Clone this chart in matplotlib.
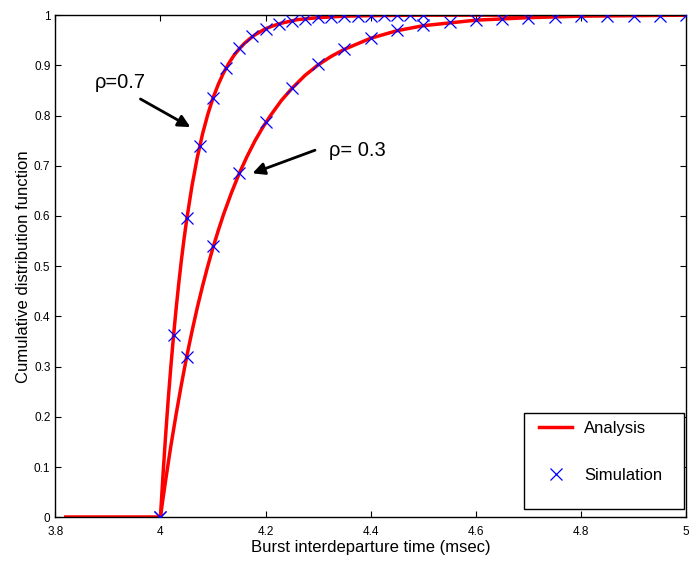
import matplotlib
matplotlib.use("Agg")
import matplotlib.pyplot as plt
from matplotlib.ticker import FormatStrFormatter
from matplotlib.patches import Rectangle

plt.rcParams['font.family'] = ['Liberation Sans', 'DejaVu Sans']

# analysis curves
ana_x_07 = [3.82, 4.0, 4.005, 4.01, 4.015, 4.02, 4.025, 4.03, 4.035, 4.04, 4.045, 4.05,
            4.06, 4.07, 4.08, 4.09, 4.10, 4.11, 4.12, 4.13, 4.14, 4.15, 4.16, 4.17, 4.18,
            4.20, 4.215, 4.23, 4.26, 4.30, 4.35, 4.40, 4.50, 5.0]
ana_y_07 = [0, 0, 0.086, 0.165, 0.237, 0.302, 0.362, 0.417, 0.467, 0.513, 0.555, 0.593,
            0.660, 0.716, 0.763, 0.802, 0.835, 0.862, 0.885, 0.904, 0.920, 0.933, 0.944, 0.953, 0.961,
            0.973, 0.979, 0.984, 0.991, 0.995, 0.998, 0.999, 1.0, 1.0]
ana_x_03 = [3.82, 4.0, 4.005, 4.01, 4.015, 4.02, 4.03, 4.04, 4.05, 4.06, 4.07, 4.08, 4.09,
            4.10, 4.11, 4.12, 4.135, 4.15, 4.165, 4.18, 4.195, 4.21, 4.23, 4.25, 4.275,
            4.30, 4.325, 4.35, 4.40, 4.45, 4.50, 4.60, 4.70, 4.80, 4.90, 5.0]
ana_y_03 = [0, 0, 0.038, 0.074, 0.109, 0.143, 0.206, 0.265, 0.320, 0.370, 0.417, 0.460, 0.500,
            0.537, 0.571, 0.603, 0.646, 0.685, 0.719, 0.750, 0.777, 0.801, 0.830, 0.854, 0.880,
            0.901, 0.918, 0.932, 0.954, 0.969, 0.979, 0.990, 0.995, 0.998, 0.999, 1.0]

# simulation points
sim_x_07 = [4.0, 4.025, 4.05, 4.075, 4.1, 4.125, 4.15, 4.175, 4.2, 4.225, 4.25,
            4.275, 4.3, 4.325, 4.35, 4.375, 4.4, 4.425, 4.45, 4.475, 4.5]
sim_y_07 = [0, 0.363, 0.595, 0.74, 0.835, 0.895, 0.935, 0.958, 0.973, 0.983, 0.989,
            0.993, 0.996, 0.997, 0.998, 0.999, 0.999, 1.0, 1.0, 1.0, 1.0]
sim_x_03 = [4.0, 4.05, 4.1, 4.15, 4.2, 4.25, 4.3, 4.35, 4.4, 4.45, 4.5,
            4.55, 4.6, 4.65, 4.7, 4.75, 4.8, 4.85, 4.9, 4.95, 5.0]
sim_y_03 = [0, 0.32, 0.54, 0.685, 0.787, 0.855, 0.902, 0.933, 0.955, 0.97, 0.98,
            0.986, 0.99, 0.993, 0.995, 0.997, 0.998, 0.999, 0.999, 0.999, 1.0]

fig = plt.figure(figsize=(6.91, 5.61), dpi=100)
ax = fig.add_axes([0.080, 0.078, 0.913, 0.895])

ax.plot(ana_x_07, ana_y_07, color='red', lw=2.5, label='Analysis', zorder=2)
ax.plot(ana_x_03, ana_y_03, color='red', lw=2.5, zorder=2)
ax.plot(sim_x_07, sim_y_07, 'x', color='blue', ms=9, mew=0.9, label='Simulation', zorder=3)
ax.plot(sim_x_03, sim_y_03, 'x', color='blue', ms=9, mew=0.9, zorder=3)

ax.set_xlim(3.8, 5.0)
ax.set_ylim(0, 1)
ax.set_xticks([3.8, 4.0, 4.2, 4.4, 4.6, 4.8, 5.0])
ax.set_yticks([i / 10 for i in range(11)])
ax.xaxis.set_major_formatter(FormatStrFormatter('%g'))
ax.yaxis.set_major_formatter(FormatStrFormatter('%g'))
ax.tick_params(direction='in', top=True, right=True, labelsize=8.5, length=4)
ax.tick_params(axis='x', pad=6)
for s in ax.spines.values():
    s.set_linewidth(1.0)

ax.set_xlabel('Burst interdeparture time (msec)', fontsize=12, labelpad=2)
ax.set_ylabel('Cumulative distribution function', fontsize=12, labelpad=2)

arrow = dict(arrowstyle='-|>', color='black', lw=2, mutation_scale=18, shrinkA=0, shrinkB=0)
ax.annotate('', xy=(4.057, 0.777), xytext=(3.962, 0.833), arrowprops=arrow)
ax.text(3.924, 0.865, 'ρ=0.7', fontsize=14.5, ha='center', va='center')
ax.annotate('', xy=(4.175, 0.685), xytext=(4.294, 0.731), arrowprops=arrow)
ax.text(4.32, 0.731, 'ρ= 0.3', fontsize=14.5, ha='left', va='center')

# MATLAB-style legend box with extra space at the bottom
ax.add_patch(Rectangle((0.743, 0.016), 0.254, 0.191, transform=ax.transAxes,
                       facecolor='white', edgecolor='black', lw=1.0, zorder=4))
leg = ax.legend(loc='upper left', bbox_to_anchor=(0.755, 0.207), fontsize=12,
                frameon=False, borderpad=0.45, labelspacing=1.95, handlelength=2.0,
                handletextpad=0.7, borderaxespad=0.0)
leg.set_zorder(5)

fig.savefig('out.png', dpi=100)
